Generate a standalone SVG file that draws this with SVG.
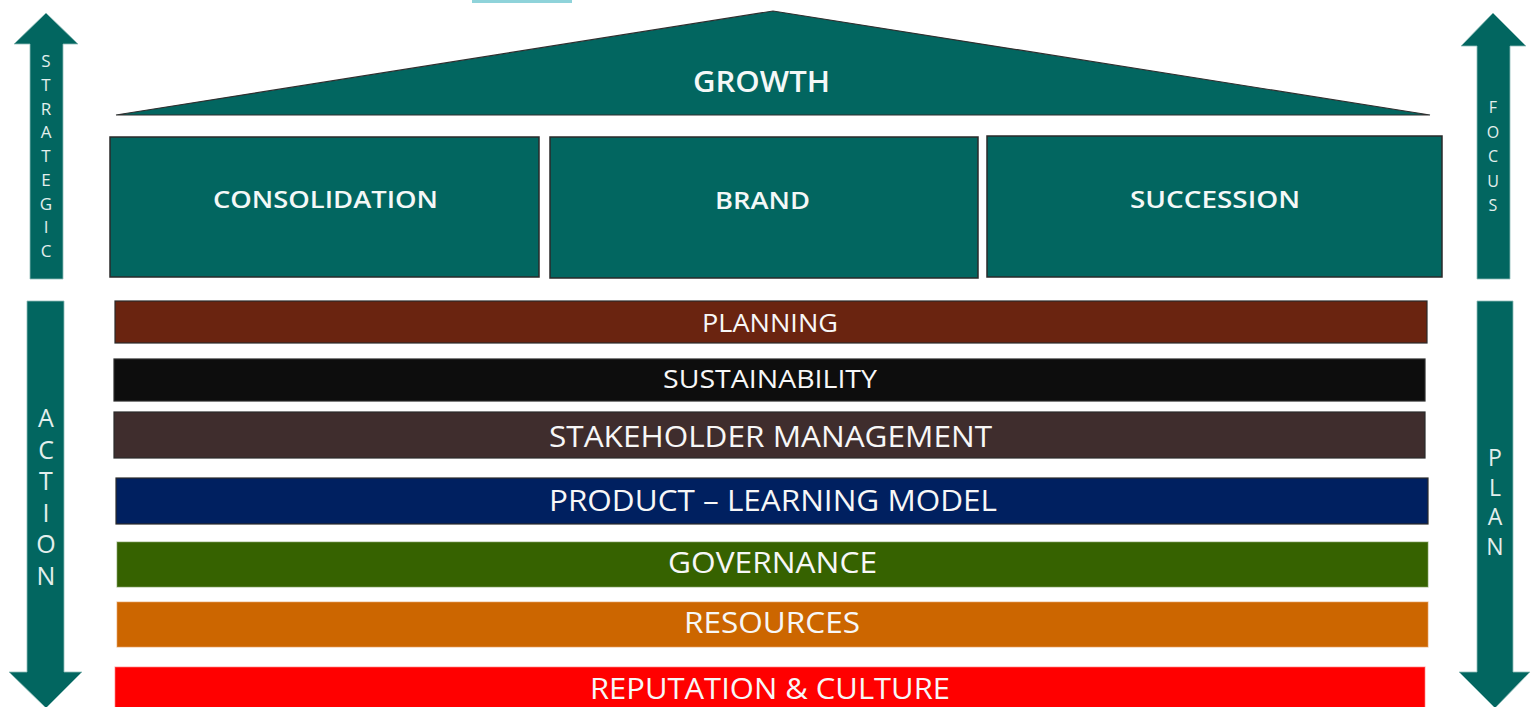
<svg xmlns="http://www.w3.org/2000/svg" width="1536" height="707" viewBox="0 0 1536 707">
  <style>
    .arrow { fill: #026660; stroke: #8fbdb9; stroke-width: 0.8; }
    .box { fill: #026660; stroke: #2a2a2a; stroke-width: 1.5; }
    .roof { fill: #026660; stroke: #2f2f2f; stroke-width: 1.2; stroke-linejoin: miter; }
    .bar { stroke-width: 1.2; }
    .dark { stroke: #2b2b2b; }
    .soft { stroke-opacity: 0.55; }
    .title { font-family: "Open Sans", "Liberation Sans", sans-serif; font-weight: 600; fill: #f4f8f7; text-anchor: middle; }
    .label { font-family: "Open Sans", "Liberation Sans", sans-serif; font-weight: 400; fill: #f7f7f7; text-anchor: middle; }
    .side { font-family: "Open Sans", "Liberation Sans", sans-serif; font-weight: 400; fill: #e3efed; text-anchor: middle; }
  </style>

  <rect width="1536" height="707" fill="#ffffff"/>

  <!-- cropped logo strip at the top edge -->
  <rect x="472" y="0" width="100" height="3" fill="#8fd3da"/>

  <!-- side arrows, each word stacked one letter per line -->
  <g id="arrow-strategic">
    <polygon class="arrow" points="46,13 78,44 63,44 63,279 30,279 30,44 14,44"/>
    <text class="side" font-size="17"><tspan x="46" y="67">S</tspan><tspan x="46" dy="23.75">T</tspan><tspan x="46" dy="23.75">R</tspan><tspan x="46" dy="23.75">A</tspan><tspan x="46" dy="23.75">T</tspan><tspan x="46" dy="23.75">E</tspan><tspan x="46" dy="23.75">G</tspan><tspan x="46" dy="23.75">I</tspan><tspan x="46" dy="23.75">C</tspan></text>
  </g>

  <g id="arrow-focus">
    <polygon class="arrow" points="1493,13 1526,46 1510,46 1510,279 1477,279 1477,46 1461,46"/>
    <text class="side" font-size="16"><tspan x="1493" y="113">F</tspan><tspan x="1493" dy="24.5">O</tspan><tspan x="1493" dy="24.5">C</tspan><tspan x="1493" dy="24.5">U</tspan><tspan x="1493" dy="24.5">S</tspan></text>
  </g>

  <g id="arrow-action">
    <polygon class="arrow" points="27,301 64,301 64,672 82,672 46,708 9,672 27,672"/>
    <text class="side" font-size="25"><tspan x="46" y="427">A</tspan><tspan x="46" dy="31.6">C</tspan><tspan x="46" dy="31.6">T</tspan><tspan x="46" dy="31.6">I</tspan><tspan x="46" dy="31.6">O</tspan><tspan x="46" dy="31.6">N</tspan></text>
  </g>

  <g id="arrow-plan">
    <polygon class="arrow" points="1477,301 1513,301 1513,672 1530,672 1495,708 1459,672 1477,672"/>
    <text class="side" font-size="23"><tspan x="1495" y="466">P</tspan><tspan x="1495" dy="29.5">L</tspan><tspan x="1495" dy="29.5">A</tspan><tspan x="1495" dy="29.5">N</tspan></text>
  </g>

  <!-- roof -->
  <g id="growth">
    <polygon class="roof" points="116,115 773,11 1430,115"/>
    <text class="title" x="761.5" y="92" font-size="29" textLength="137" lengthAdjust="spacingAndGlyphs">GROWTH</text>
  </g>

  <!-- pillars -->
  <g id="consolidation">
    <rect class="box" x="110" y="137" width="429" height="140"/>
    <text class="title" x="325.5" y="208" font-size="24" textLength="225" lengthAdjust="spacingAndGlyphs">CONSOLIDATION</text>
  </g>
  <g id="brand">
    <rect class="box" x="550" y="137" width="428" height="141"/>
    <text class="title" x="762.5" y="209" font-size="24" textLength="95" lengthAdjust="spacingAndGlyphs">BRAND</text>
  </g>
  <g id="succession">
    <rect class="box" x="987" y="136" width="455" height="141"/>
    <text class="title" x="1215" y="208" font-size="24" textLength="170" lengthAdjust="spacingAndGlyphs">SUCCESSION</text>
  </g>

  <!-- foundation bars -->
  <g id="planning">
    <rect class="bar dark" x="115" y="301" width="1312" height="42" fill="#6a2410"/>
    <text class="label" x="770" y="332" font-size="25" textLength="136" lengthAdjust="spacingAndGlyphs">PLANNING</text>
  </g>
  <g id="sustainability">
    <rect class="bar dark" x="114" y="359" width="1311" height="42" fill="#0d0d0d"/>
    <text class="label" x="770" y="388" font-size="25" textLength="214" lengthAdjust="spacingAndGlyphs">SUSTAINABILITY</text>
  </g>
  <g id="stakeholder-management">
    <rect class="bar dark" x="114" y="412" width="1311" height="46" fill="#3f2d2d"/>
    <text class="label" x="770.5" y="447" font-size="29" textLength="443" lengthAdjust="spacingAndGlyphs">STAKEHOLDER MANAGEMENT</text>
  </g>
  <g id="product-learning-model">
    <rect class="bar dark" x="116" y="478" width="1312" height="46" fill="#002060"/>
    <text class="label" x="773" y="511" font-size="29" textLength="448" lengthAdjust="spacingAndGlyphs">PRODUCT – LEARNING MODEL</text>
  </g>
  <g id="governance">
    <rect class="bar soft" x="117" y="542" width="1311" height="45" fill="#366200" stroke="#7fa060"/>
    <text class="label" x="772.5" y="573" font-size="29" textLength="209" lengthAdjust="spacingAndGlyphs">GOVERNANCE</text>
  </g>
  <g id="resources">
    <rect class="bar soft" x="117" y="602" width="1311" height="45" fill="#cc6600" stroke="#e8a060"/>
    <text class="label" x="772" y="633" font-size="29" textLength="176" lengthAdjust="spacingAndGlyphs">RESOURCES</text>
  </g>
  <g id="reputation-culture">
    <rect class="bar soft" x="115" y="667" width="1310" height="45" fill="#ff0000" stroke="#ff8080"/>
    <text class="label" x="770" y="699" font-size="29" textLength="360" lengthAdjust="spacingAndGlyphs">REPUTATION &amp; CULTURE</text>
  </g>
</svg>
